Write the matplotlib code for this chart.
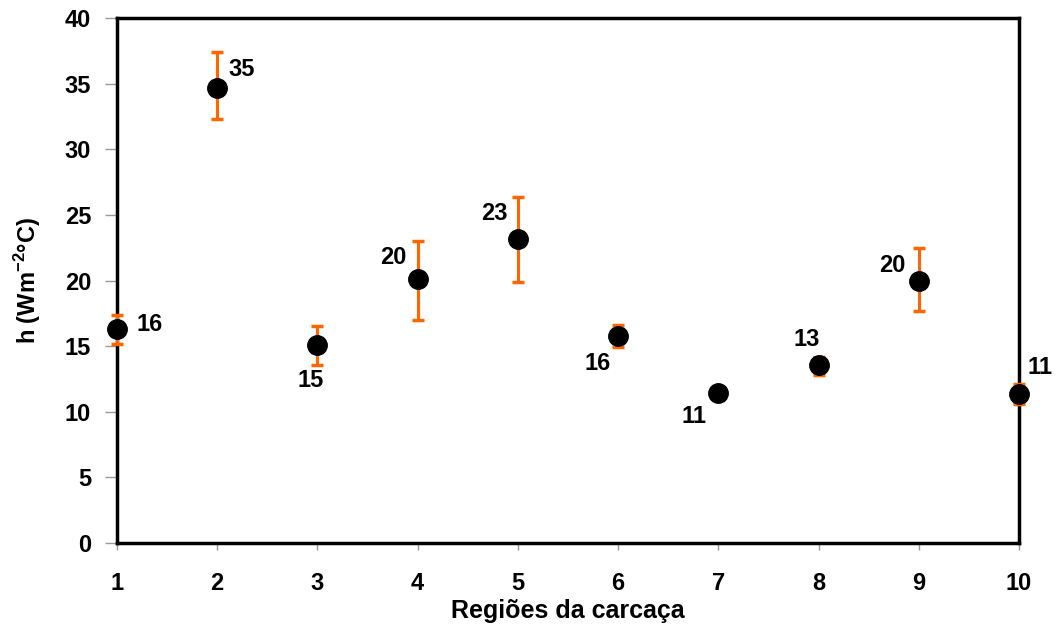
import matplotlib
matplotlib.use("Agg")
import matplotlib.pyplot as plt

plt.rcParams['font.family'] = ['Liberation Sans', 'DejaVu Sans']
plt.rcParams['mathtext.fontset'] = 'custom'
plt.rcParams['mathtext.bf'] = 'Liberation Sans:bold'
plt.rcParams['mathtext.rm'] = 'Liberation Sans:bold'

regions = [1, 2, 3, 4, 5, 6, 7, 8, 9, 10]
h_values = [16.3, 34.7, 15.1, 20.1, 23.2, 15.8, 11.4, 13.6, 20.0, 11.35]
err_upper = [1.1, 2.7, 1.4, 2.9, 3.2, 0.8, 0.3, 0.6, 2.5, 0.75]
err_lower = [1.1, 2.4, 1.5, 3.1, 3.3, 0.9, 0.3, 0.8, 2.3, 0.75]
labels = ["16", "35", "15", "20", "23", "16", "11", "13", "20", "11"]
# label offsets in points (centre of text relative to marker)
label_offsets = [(23.8, 3.6), (17.3, 13), (-5, -26), (-17.3, 15.8), (-16.6, 18),
                 (-14.4, -20.2), (-17.3, -16.6), (-8.6, 18), (-19.4, 10.8), (15, 19.4)]

fig = plt.figure(figsize=(10.58, 6.28), dpi=100)
ax = fig.add_axes([117/1058, 1 - 543/628, (1019-117)/1058, (543-18)/628])

ax.errorbar(regions, h_values, yerr=[err_lower, err_upper], fmt='none',
            ecolor='#FF6600', elinewidth=2.2, capsize=4.5, capthick=2.5, zorder=3, clip_on=False)
ax.plot(regions, h_values, 'o', color='black', markersize=14, zorder=4, clip_on=False)

for x, y, lab, (dx, dy) in zip(regions, h_values, labels, label_offsets):
    ax.annotate(lab, (x, y), xytext=(dx, dy), textcoords='offset points',
                ha='center', va='center', fontsize=17, fontweight='bold',
                color='black', annotation_clip=False)

ax.set_xlim(1, 10)
ax.set_ylim(0, 40)
ax.set_xticks(regions)
ax.set_yticks(range(0, 41, 5))
ax.tick_params(axis='x', direction='out', length=5, width=1, color='#999999',
               labelsize=17, pad=16)
ax.tick_params(axis='y', direction='out', length=8.6, width=1, color='#999999',
               labelsize=17, pad=10)
for lab in ax.get_xticklabels() + ax.get_yticklabels():
    lab.set_fontweight('bold')
for s in ax.spines.values():
    s.set_linewidth(2.5)
    s.set_color('black')

ax.set_xlabel("Regiões da carcaça", fontsize=18, fontweight='bold', labelpad=3)
ax.set_ylabel(r"h (Wm$^{-2}$°C)", fontsize=17, fontweight='bold', labelpad=16)

fig.savefig("out.png", dpi=100)
